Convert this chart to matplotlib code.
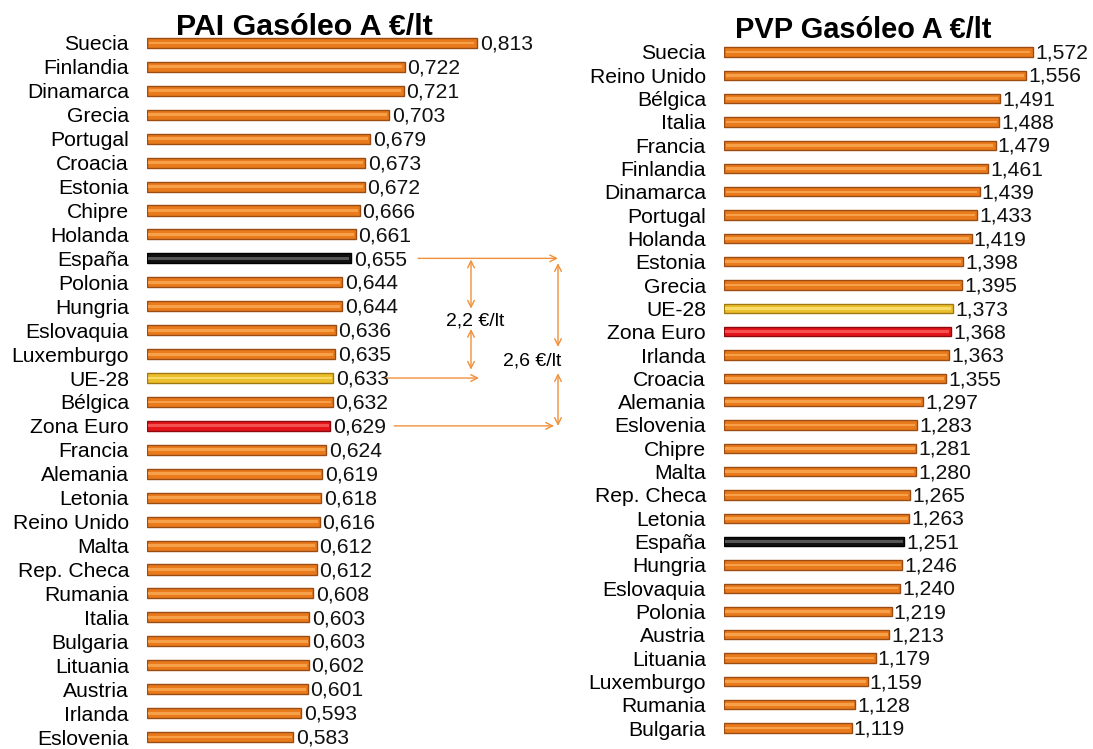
import matplotlib
matplotlib.use("Agg")
import matplotlib.pyplot as plt

plt.rcParams['font.family'] = ['Liberation Sans', 'DejaVu Sans']

# ---------------- data ----------------
pai_countries = ["Suecia", "Finlandia", "Dinamarca", "Grecia", "Portugal", "Croacia",
                 "Estonia", "Chipre", "Holanda", "España", "Polonia", "Hungria",
                 "Eslovaquia", "Luxemburgo", "UE-28", "Bélgica", "Zona Euro", "Francia",
                 "Alemania", "Letonia", "Reino Unido", "Malta", "Rep. Checa", "Rumania",
                 "Italia", "Bulgaria", "Lituania", "Austria", "Irlanda", "Eslovenia"]
pai_values = [0.813, 0.722, 0.721, 0.703, 0.679, 0.673, 0.672, 0.666, 0.661, 0.655,
              0.644, 0.644, 0.636, 0.635, 0.633, 0.632, 0.629, 0.624, 0.619, 0.618,
              0.616, 0.612, 0.612, 0.608, 0.603, 0.603, 0.602, 0.601, 0.593, 0.583]

pvp_countries = ["Suecia", "Reino Unido", "Bélgica", "Italia", "Francia", "Finlandia",
                 "Dinamarca", "Portugal", "Holanda", "Estonia", "Grecia", "UE-28",
                 "Zona Euro", "Irlanda", "Croacia", "Alemania", "Eslovenia", "Chipre",
                 "Malta", "Rep. Checa", "Letonia", "España", "Hungria", "Eslovaquia",
                 "Polonia", "Austria", "Lituania", "Luxemburgo", "Rumania", "Bulgaria"]
pvp_values = [1.572, 1.556, 1.491, 1.488, 1.479, 1.461, 1.439, 1.433, 1.419, 1.398,
              1.395, 1.373, 1.368, 1.363, 1.355, 1.297, 1.283, 1.281, 1.280, 1.265,
              1.263, 1.251, 1.246, 1.240, 1.219, 1.213, 1.179, 1.159, 1.128, 1.119]

pai_title = "PAI Gasóleo A €/lt"
pvp_title = "PVP Gasóleo A €/lt"
gap_labels = ["2,2 €/lt", "2,6 €/lt"]

# ---------------- styles ----------------
W, H = 1093, 749
FS = 15.2
special = {
    "España": ("#111111", "#555555", "#000000"),
    "UE-28": ("#EDBE2C", "#F8DC6A", "#A07A10"),
    "Zona Euro": ("#E3141A", "#F45050", "#8E0A0E"),
}
default_style = ("#E97B1C", "#F6A04A", "#9A4C12")
ARROW = "#F0903A"

fig = plt.figure(figsize=(W / 100, H / 100), dpi=100)


def px_axes(x0, x1, ytop, ybot):
    return fig.add_axes([x0 / W, 1 - ybot / H, (x1 - x0) / W, (ybot - ytop) / H])


def draw(ax, countries, values, xmin, xmax, bh):
    n = len(countries)
    ys = list(range(n))
    for y, c, v in zip(ys, countries, values):
        face, light, edge = special.get(c, default_style)
        ax.barh(y, v - xmin, left=xmin, height=bh, color=face, edgecolor=edge,
                linewidth=1.0, zorder=2)
        ax.barh(y, (v - xmin) * 0.985, left=xmin + (v - xmin) * 0.006,
                height=bh * 0.28, color=light, edgecolor='none', zorder=3)
        ax.text(v + (xmax - xmin) * 0.006, y + 0.05, f"{v:.3f}".replace(".", ","),
                ha='left', va='center', fontsize=FS, color='#111111', zorder=4)
    ax.set_xlim(xmin, xmax)
    ax.set_ylim(n - 0.5, -0.5)
    ax.set_yticks(ys)
    ax.set_yticklabels(countries, fontsize=FS)
    ax.tick_params(axis='y', length=0, pad=13)
    ax.set_xticks([])
    for s in ax.spines.values():
        s.set_visible(False)
    ax.patch.set_alpha(0)


# Left chart: bar base at x=147px, 800 px per unit, starting at 0.4
axL = px_axes(147, 600, 31, 749)
xminL = 0.4
xmaxL = xminL + (600 - 147) / 800
draw(axL, pai_countries, pai_values, xminL, xmaxL, 0.42)
fig.text(304.5 / W, 1 - 35 / H, pai_title, ha='center', va='baseline',
         fontsize=21.9, fontweight='bold')

# Right chart: bar base at 724px, 400 px per unit, starting at 0.8
axR = px_axes(724, 1093, 40.3, 739.7)
xminR = 0.8
xmaxR = xminR + (1093 - 724) / 400
draw(axR, pvp_countries, pvp_values, xminR, xmaxR, 0.40)
fig.text(863.5 / W, 1 - 38 / H, pvp_title, ha='center', va='baseline',
         fontsize=20.9, fontweight='bold')

# ---------------- annotations on left chart ----------------
def dx(px):
    return xminL + (px - 147) / 800


iE = pai_countries.index("España")
iU = pai_countries.index("UE-28")
iZ = pai_countries.index("Zona Euro")
vE, vU, vZ = pai_values[iE], pai_values[iU], pai_values[iZ]

arr = dict(arrowstyle='->', color=ARROW, lw=1.0, mutation_scale=12,
           shrinkA=0, shrinkB=0)
darr = dict(arrowstyle='<->', color=ARROW, lw=1.0, mutation_scale=12,
            shrinkA=0, shrinkB=0)

xa, xb = dx(471), dx(558)
# horizontal arrows
axL.annotate("", xy=(xb, iE), xytext=(vE + 0.084, iE), arrowprops=arr,
             annotation_clip=False)
axL.annotate("", xy=(dx(479), iU), xytext=(vU + 0.064, iU), arrowprops=arr,
             annotation_clip=False)
axL.annotate("", xy=(dx(554), iZ), xytext=(vZ + 0.080, iZ), arrowprops=arr,
             annotation_clip=False)
# vertical double arrows
axL.annotate("", xy=(xa, iE + 0.05), xytext=(xa, iE + 2.1), arrowprops=darr,
             annotation_clip=False)
axL.annotate("", xy=(xa, iE + 2.95), xytext=(xa, iU - 0.35), arrowprops=darr,
             annotation_clip=False)
axL.text(dx(475), iE + 2.6, gap_labels[0], ha='center', va='center', fontsize=14)
axL.annotate("", xy=(xb, iE + 0.2), xytext=(xb, iE + 3.7), arrowprops=darr,
             annotation_clip=False)
axL.annotate("", xy=(xb, iE + 4.8), xytext=(xb, iZ), arrowprops=darr,
             annotation_clip=False)
axL.text(dx(532), iE + 4.3, gap_labels[1], ha='center', va='center', fontsize=14)

fig.savefig("out.png", dpi=100)
